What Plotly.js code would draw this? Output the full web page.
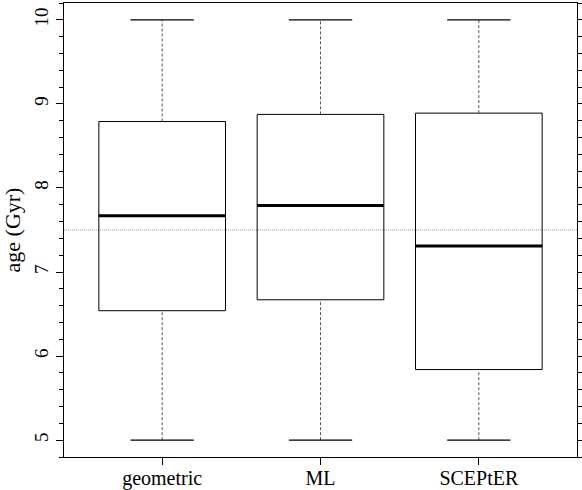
<!DOCTYPE html>
<html>
<head>
<meta charset="utf-8">
<script src="https://cdn.plot.ly/plotly-3.0.1.min.js"></script>
<style>html,body{margin:0;padding:0;background:#fff;}#chart{width:582px;height:490px;}</style>
</head>
<body>
<div id="chart"></div>
<script>
const categories = ["geometric", "ML", "SCEPtER"];
const lowerWhisker = [5.0, 5.0, 5.0];
const q1 = [6.54, 6.67, 5.84];
const median = [7.67, 7.79, 7.31];
const q3 = [8.79, 8.875, 8.89];
const upperWhisker = [10.0, 10.0, 10.0];
const referenceAge = 7.5;
const yTicks = [5, 6, 7, 8, 9, 10];

const FONT = "Liberation Serif, Times New Roman, serif";
const pos = categories.map((c, i) => i + 1);
const boxHalf = 0.4, capHalf = 0.2;

const traces = [];
traces.push({
  type: "box", x: pos, q1: q1, median: median, q3: q3,
  lowerfence: q1, upperfence: q3, width: boxHalf * 2,
  fillcolor: "rgba(0,0,0,0)", line: {color: "#000", width: 1},
  whiskerwidth: 0, boxpoints: false, hoverinfo: "skip", showlegend: false
});
pos.forEach((p, i) => {
  traces.push({type: "scatter", mode: "lines", x: [p, p], y: [q3[i], upperWhisker[i]],
    line: {color: "#555", width: 1, dash: "3px,2px"}, showlegend: false, hoverinfo: "skip"});
  traces.push({type: "scatter", mode: "lines", x: [p, p], y: [lowerWhisker[i], q1[i]],
    line: {color: "#555", width: 1, dash: "3px,2px"}, showlegend: false, hoverinfo: "skip"});
  traces.push({type: "scatter", mode: "lines", x: [p - capHalf, p + capHalf], y: [upperWhisker[i], upperWhisker[i]],
    line: {color: "#000", width: 1.2}, showlegend: false, hoverinfo: "skip"});
  traces.push({type: "scatter", mode: "lines", x: [p - capHalf, p + capHalf], y: [lowerWhisker[i], lowerWhisker[i]],
    line: {color: "#000", width: 1.2}, showlegend: false, hoverinfo: "skip"});
  traces.push({type: "scatter", mode: "lines", x: [p - boxHalf, p + boxHalf], y: [median[i], median[i]],
    line: {color: "#000", width: 3}, showlegend: false, hoverinfo: "skip"});
});
traces.push({type: "scatter", mode: "markers", x: [1], y: [7.5], yaxis: "y2",
  marker: {opacity: 0}, showlegend: false, hoverinfo: "skip"});

const layout = {
  width: 582, height: 490,
  margin: {l: 64, r: 5, t: 3, b: 33},
  paper_bgcolor: "#fff", plot_bgcolor: "#fff",
  font: {family: FONT, size: 19, color: "#000"},
  showlegend: false,
  xaxis: {
    range: [0.38, 3.62], tickvals: pos, ticktext: categories,
    ticks: "outside", ticklen: 7, tickcolor: "#000", tickwidth: 1,
    ticklabelstandoff: -4,
    showline: true, mirror: true, linecolor: "#000", linewidth: 1,
    showgrid: false, zeroline: false, tickfont: {family: FONT, size: 20}
  },
  yaxis: {
    range: [4.8, 10.2], tickvals: yTicks, tickangle: -90,
    ticks: "outside", ticklen: 7, tickcolor: "#000", tickwidth: 1,
    minor: {dtick: 0.2, ticks: "outside", ticklen: 4, tickcolor: "#000", showgrid: false},
    showline: true, mirror: true, linecolor: "#000", linewidth: 1,
    showgrid: false, zeroline: false, tickfont: {family: FONT, size: 19},
    title: {text: "age (Gyr)", font: {family: FONT, size: 22}, standoff: 9}
  },
  yaxis2: {
    overlaying: "y", side: "right", range: [4.8, 10.2], dtick: 0.2, tick0: 5,
    ticks: "outside", ticklen: 4, tickcolor: "#000", showticklabels: false,
    showline: false, showgrid: false, zeroline: false
  },
  shapes: [{
    type: "line", xref: "paper", yref: "y", x0: 0, x1: 1, y0: referenceAge, y1: referenceAge,
    line: {color: "#999", width: 1, dash: "1px,1px"}, layer: "below"
  }]
};

Plotly.newPlot("chart", traces, layout, {displayModeBar: false, staticPlot: true});
</script>
</body>
</html>
